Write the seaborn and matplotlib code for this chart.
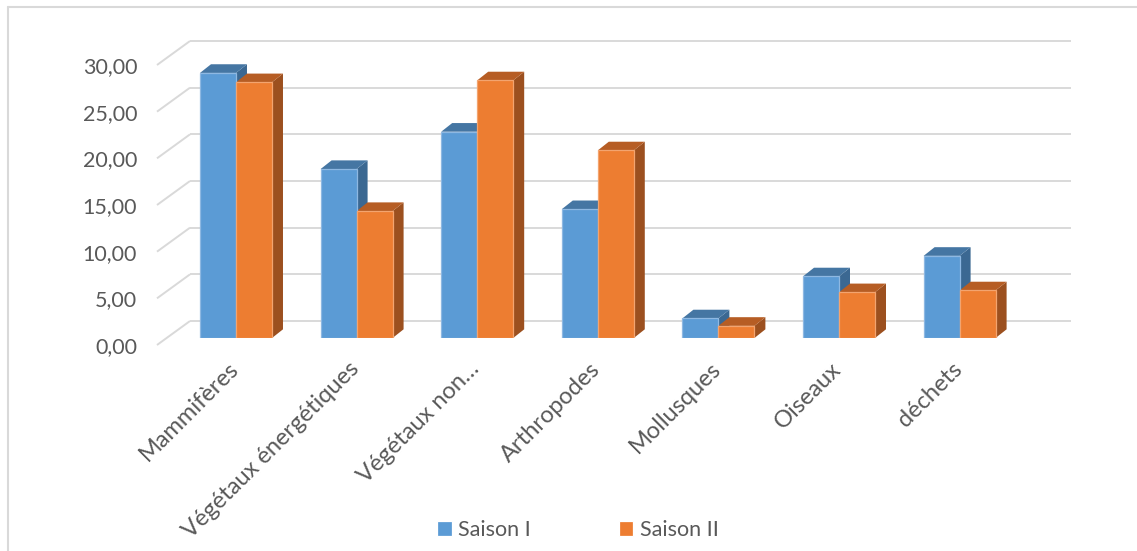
import matplotlib
matplotlib.use("Agg")
import matplotlib.pyplot as plt
import matplotlib.transforms as mtransforms
from matplotlib.patches import Polygon
from matplotlib.lines import Line2D
import pandas as pd
import seaborn as sns

# Diet composition per season
categories = ["Mammifères", "Végétaux énergétiques", "Végétaux non…", "Arthropodes",
              "Mollusques", "Oiseaux", "déchets"]
saison_1 = [28.4, 18.1, 22.1, 13.8, 2.1, 6.6, 8.8]
saison_2 = [27.4, 13.6, 27.6, 20.1, 1.3, 4.9, 5.1]
series = ["Saison I", "Saison II"]
y_ticks = [0, 5, 10, 15, 20, 25, 30]
y_tick_labels = [f"{v:.2f}".replace(".", ",") for v in y_ticks]

front_colors = ["#5B9BD5", "#ED7D31"]
top_colors = ["#4576A3", "#B65D24"]
side_colors = ["#3B6892", "#9C501F"]
edge_colors = ["#8EB8E2", "#F3A46F"]
grid_color = "#D9D9D9"
text_color = "#595959"

sns.set_theme(style="white")
plt.rcParams["font.family"] = ["Lato", "DejaVu Sans"]

df = pd.DataFrame({
    "categorie": categories * 2,
    "valeur": saison_1 + saison_2,
    "saison": [series[0]] * len(categories) + [series[1]] * len(categories),
})

fig = plt.figure(figsize=(11.37, 5.51), dpi=100)
ax = fig.add_axes([167 / 1137, 213 / 551, 881 / 1137, 280 / 551])

sns.barplot(data=df, x="categorie", y="valeur", hue="saison", order=categories,
            hue_order=series, palette=front_colors, saturation=1, width=0.597,
            gap=0, errorbar=None, ax=ax, zorder=3, linewidth=0.9)

x0, x1 = -0.572, 6.733
ax.set_xlim(x0, x1)
ax.set_ylim(0, 30)

# depth of the boxes and of the back wall, in data units
ddx, ddy = 0.0912, 0.93
back_dx, back_dy = 0.1907, 1.82
front_dx, front_dy = 0.083, 0.75

# pseudo-3D faces on every bar
for i, cont in enumerate(ax.containers):
    for bar in cont:
        bx, w, h = bar.get_x(), bar.get_width(), bar.get_height()
        bar.set_edgecolor(edge_colors[i])
        top = Polygon([(bx, h), (bx + w, h), (bx + w + ddx, h + ddy), (bx + ddx, h + ddy)],
                      closed=True, facecolor=top_colors[i], edgecolor="none",
                      zorder=2 + 0.3 * i, clip_on=False)
        side = Polygon([(bx + w, 0), (bx + w, h), (bx + w + ddx, h + ddy), (bx + w + ddx, ddy)],
                       closed=True, facecolor=side_colors[i], edgecolor="none",
                       zorder=2 + 0.3 * i, clip_on=False)
        ax.add_patch(side)
        ax.add_patch(top)

# back wall gridlines and the slanted side-wall lines
for v in y_ticks:
    ax.plot([x0 + back_dx, x1 + back_dx], [v + back_dy, v + back_dy],
            color=grid_color, lw=1.4, zorder=0.5, clip_on=False, solid_capstyle="butt")
    ax.plot([x0 - front_dx, x0 + back_dx], [v - front_dy, v + back_dy],
            color=grid_color, lw=1.4, zorder=0.5, clip_on=False, solid_capstyle="butt")

for s in ax.spines.values():
    s.set_visible(False)
ax.set_xlabel("")
ax.set_ylabel("")

# y tick labels sit at the front end of the slanted lines
ax.set_yticks(y_ticks)
ax.set_yticklabels(y_tick_labels)
ax.tick_params(axis="y", length=0, pad=21.5, labelsize=15.5, labelcolor=text_color)
down = mtransforms.ScaledTranslation(0, -7 / 100, fig.dpi_scale_trans)
for lab in ax.get_yticklabels():
    lab.set_transform(lab.get_transform() + down)

ax.tick_params(axis="x", length=0, pad=20, labelsize=17, labelcolor=text_color)
shift = mtransforms.ScaledTranslation(-1 / 100, 0, fig.dpi_scale_trans)
for lab in ax.get_xticklabels():
    lab.set_rotation(45)
    lab.set_ha("right")
    lab.set_va("center")
    lab.set_rotation_mode("anchor")
    lab.set_transform(lab.get_transform() + shift)

handles, labels = ax.get_legend_handles_labels()
ax.get_legend().remove()
fig.legend(handles, labels, loc="center", bbox_to_anchor=(578 / 1137, 21 / 551),
           ncol=2, frameon=False, fontsize=15.5, labelcolor=text_color,
           handlelength=0.66, handleheight=0.66, handletextpad=0.3,
           columnspacing=4.1)

# chart frame
fig.add_artist(Line2D([8 / 1137, 1.0], [1 - 7 / 551, 1 - 7 / 551],
                      transform=fig.transFigure, color=grid_color, lw=1.5))
fig.add_artist(Line2D([8 / 1137, 8 / 1137], [0, 1 - 7 / 551],
                      transform=fig.transFigure, color=grid_color, lw=1.5))

fig.savefig("out.png", dpi=100, facecolor="white")
